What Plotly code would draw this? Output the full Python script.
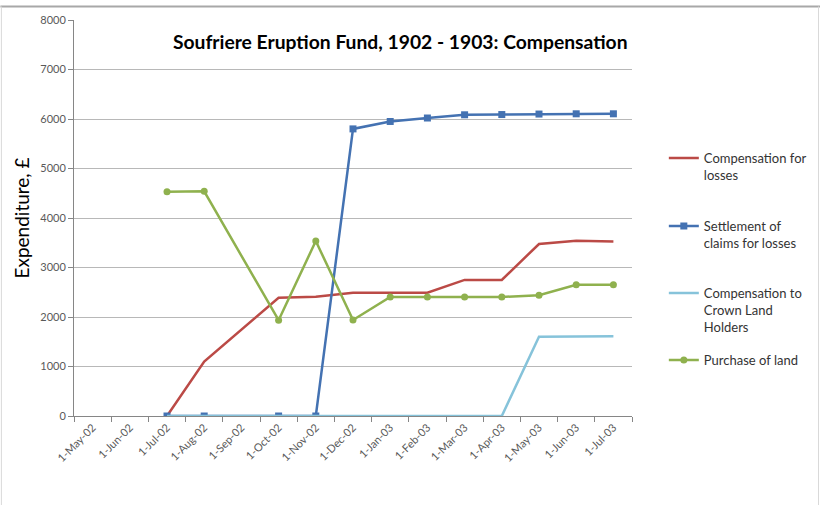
import plotly.graph_objects as go

months = ["1-May-02", "1-Jun-02", "1-Jul-02", "1-Aug-02", "1-Sep-02", "1-Oct-02",
          "1-Nov-02", "1-Dec-02", "1-Jan-03", "1-Feb-03", "1-Mar-03", "1-Apr-03",
          "1-May-03", "1-Jun-03", "1-Jul-03"]

comp_losses = [None, None, 0, 1100, None, 2390, 2410, 2490, 2490, 2490, 2750, 2750, 3475, 3540, 3525]
settlement = [None, None, 0, 0, None, 0, 0, 5800, 5950, 6020, 6085, 6090, 6100, 6105, 6105]
crown_land = [None, None, 0, 0, None, 0, 0, 0, 0, 0, 0, 0, 1600, 1610, 1610]
purchase_land = [None, None, 4530, 4540, None, 1935, 3535, 1940, 2405, 2405, 2405, 2405, 2440, 2650, 2650]

names = ["Compensation for<br>losses", "Settlement of<br>claims for losses",
         "Compensation to<br>Crown Land<br>Holders", "Purchase of land"]

y_ticks = [0, 1000, 2000, 3000, 4000, 5000, 6000, 7000, 8000]

RED = "#BB4A46"
BLUE = "#4472B2"
LBLUE = "#86C3DA"
GREEN = "#8FB14E"
FONT = "Lato"

fig = go.Figure()
fig.add_trace(go.Scatter(x=months, y=comp_losses, name=names[0], mode="lines",
                         line=dict(color=RED, width=2.5), connectgaps=True, legend="legend"))
fig.add_trace(go.Scatter(x=months, y=settlement, name=names[1], mode="lines+markers",
                         line=dict(color=BLUE, width=2.5),
                         marker=dict(symbol="square", size=7, color=BLUE),
                         connectgaps=True, legend="legend2"))
fig.add_trace(go.Scatter(x=months, y=crown_land, name=names[2], mode="lines",
                         line=dict(color=LBLUE, width=2.5), connectgaps=True, legend="legend3"))
fig.add_trace(go.Scatter(x=months, y=purchase_land, name=names[3], mode="lines+markers",
                         line=dict(color=GREEN, width=2.5),
                         marker=dict(symbol="circle", size=7, color=GREEN),
                         connectgaps=True, legend="legend4"))

L, R, T, B = 74, 635, 20, 416
W, H = 824, 505
pw, ph = R - L, B - T

def px_x(x):
    return (x - L) / pw

def px_y(y):
    return (B - y) / ph

legend_common = dict(font=dict(family=FONT, size=13, color="#333333"),
                     bgcolor="rgba(0,0,0,0)", valign="top", xanchor="left",
                     yanchor="top", itemwidth=30, tracegroupgap=0)
legend_tops = [143, 211, 278, 345]
layout_legends = {}
for i, top in enumerate(legend_tops):
    key = "legend" if i == 0 else f"legend{i + 1}"
    layout_legends[key] = dict(legend_common, x=px_x(667), y=px_y(top))

shapes = [
    dict(type="line", xref="paper", yref="paper", x0=px_x(0), x1=px_x(824),
         y0=px_y(6.5), y1=px_y(6.5), line=dict(color="#A8A8A8", width=2)),
    dict(type="line", xref="paper", yref="paper", x0=px_x(1), x1=px_x(1),
         y0=px_y(6.5), y1=px_y(510), line=dict(color="#D9D9D9", width=1)),
    dict(type="line", xref="paper", yref="paper", x0=px_x(822.5), x1=px_x(822.5),
         y0=px_y(6.5), y1=px_y(510), line=dict(color="#D9D9D9", width=1)),
]

fig.update_layout(
    width=W, height=H,
    margin=dict(l=L, r=W - R, t=T, b=H - B, pad=0),
    paper_bgcolor="white", plot_bgcolor="white",
    font=dict(family=FONT, color="#595959"),
    title=dict(text="<b>Soufriere Eruption Fund, 1902 - 1903: Compensation</b>",
               font=dict(family=FONT, size=19.3, color="#000000"),
               xref="paper", x=px_x(402), xanchor="center",
               yref="container", y=1 - 42 / H, yanchor="middle"),
    showlegend=True,
    shapes=shapes,
    **layout_legends,
)

fig.update_xaxes(type="category", categoryorder="array", categoryarray=months,
                 range=[-0.5, len(months) - 0.5], tickson="boundaries",
                 ticks="outside", ticklen=5, tickcolor="#868686",
                 showline=True, linecolor="#868686", linewidth=1,
                 showgrid=False, tickangle=-45,
                 tickfont=dict(family=FONT, size=11, color="#595959"))
fig.update_yaxes(range=[0, 8000], tickvals=y_ticks, ticks="outside", ticklen=5,
                 tickcolor="#868686", showline=True, linecolor="#868686", linewidth=1,
                 showgrid=True, gridcolor="#B8B8B8", gridwidth=1, zeroline=False,
                 tickfont=dict(family=FONT, size=11, color="#595959"),
                 title=dict(text="Expenditure, £", font=dict(family=FONT, size=19, color="#000000"),
                            standoff=5))

fig.write_html("out.html", config={"displayModeBar": False},
               post_script="document.body.style.margin='0';")
